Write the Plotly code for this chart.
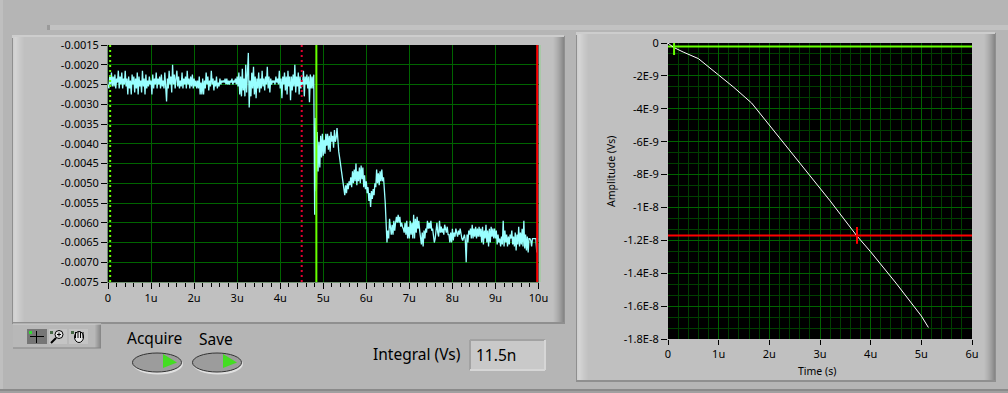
import numpy as np
import plotly.graph_objects as go

W, H = 1008, 393

# Left graph: digitised signal, mV, one value per 0.02 us
sig_a = [
-2.50,-2.60,-2.30,-2.50,-2.20,-2.55,-2.30,-2.55,-2.25,-2.60,-2.35,-2.45,-2.15,-2.60,-2.30,-2.50,-2.20,-2.60,-2.35,-2.50,
-2.15,-2.55,-2.35,-2.75,-2.30,-2.60,-2.40,-2.75,-2.25,-2.50,-2.30,-2.70,-2.35,-2.60,-2.20,-2.75,-2.30,-2.55,-2.40,-2.70,
-2.15,-2.55,-2.35,-2.75,-2.25,-2.60,-2.40,-2.55,-2.30,-2.50,-2.40,-2.75,-2.25,-2.60,-2.35,-2.50,-2.20,-2.60,-2.35,-2.50,
-2.30,-2.60,-2.25,-2.55,-2.40,-2.60,-2.20,-2.50,-2.93,-2.35,-2.60,-2.15,-2.50,-2.30,-2.70,-2.00,-2.50,-2.25,-2.60,-2.35,
-2.15,-2.55,-2.30,-2.60,-2.40,-2.55,-2.20,-2.60,-2.35,-2.50,-2.30,-2.60,-2.15,-2.50,-2.35,-2.60,-2.30,-2.55,-2.25,-2.60,
-2.35,-2.55,-2.40,-2.60,-2.40,-2.60,-2.30,-2.75,-2.45,-2.75,-2.35,-2.75,-2.40,-2.60,-2.20,-2.50,-2.30,-2.65,-2.40,-2.55,
-2.15,-2.50,-2.35,-2.65,-2.40,-2.55,-2.30,-2.60,-2.45,-2.55,-2.35,-2.50,-2.40,-2.45,-2.40,-2.45,-2.35,-2.50,-2.35,-2.50,
-2.40,-2.50,-2.40,-2.45,-2.35,-2.50,-2.40,-2.45,-2.35,-2.50,-2.30,-2.55,-2.20,-2.75,-2.30,-2.80,-2.10,-2.65,-2.35,-2.80,
-2.00,-2.70,-2.30,-1.70,-3.08,-2.40,-2.80,-2.20,-2.60,-2.05,-2.75,-2.30,-2.85,-2.35,-2.60,-2.20,-2.70,-2.35,-2.60,-2.15,
-2.55,-2.35,-2.65,-2.30,-2.50,-2.05,-2.60,-2.30,-2.70,-2.35,-2.50,-2.40,-2.45,-2.40,-2.50,-2.30,-2.45,-2.35,-2.50,-2.15,
-2.60,-2.35,-2.85,-2.30,-2.50,-2.20,-2.65,-2.30,-2.75,-2.15,-2.55,-2.30,-2.90,-2.30,-2.65,-2.25,-2.55,-2.00,-2.70,-2.30,
-2.55,-2.20,-2.75,-2.30,-2.60,-2.40,-2.50,-2.15,-2.80,-2.30,-2.50,-2.25,-2.60,-2.30,-2.95,-2.25,-2.60,-2.30,-2.60,-2.25,
]
sig_b = [
-5.80,-3.35,-5.20,-3.70,-4.70,-3.95,-4.60,-3.80,-4.35,-3.75,-4.30,-3.90,-4.25,-3.75,-4.05,-3.75,-4.15,-3.80,-4.20,-3.70,
-3.95,-3.80,-4.10,-3.65,-3.95,-3.85,-3.60,-4.00,-4.20,-4.35,-4.50,-4.70,-4.85,-5.05,-5.20,-5.30,-5.05,-5.25,-5.00,-5.15,
-4.95,-5.05,-4.85,-5.10,-4.70,-5.00,-4.65,-4.95,-4.50,-5.05,-4.70,-4.95,-4.60,-5.00,-4.55,-4.90,-4.60,-5.10,-4.80,-5.15,
-4.95,-5.25,-5.10,-5.45,-5.25,-5.60,-5.20,-5.40,-5.15,-5.30,-5.00,-5.10,-4.65,-5.00,-4.75,-5.05,-4.70,-4.95,-4.65,-4.95,
-4.85,-5.10,-5.50,-6.00,-6.50,-6.20,-6.40,-5.90,-6.10,-6.30,-6.05,-6.30,-5.95,-6.20,-6.00,-5.85,-6.00,-5.80,-6.00,-5.85,
-6.10,-6.00,-6.10,-6.15,-6.25,-6.00,-6.30,-5.95,-6.40,-6.10,-6.40,-5.95,-6.30,-6.00,-6.40,-5.80,-6.40,-5.90,-6.25,-5.85,
-6.15,-5.95,-6.20,-6.40,-6.55,-6.25,-6.60,-6.20,-6.40,-6.15,-6.25,-5.95,-6.15,-6.00,-6.15,-5.95,-6.20,-6.15,-6.40,-6.50,
-6.40,-6.20,-6.00,-6.25,-6.35,-5.95,-6.25,-6.10,-6.25,-6.15,-6.30,-6.05,-6.15,-6.25,-6.10,-6.30,-6.30,-6.50,-6.25,-6.50,
-6.15,-6.45,-6.25,-6.35,-6.15,-6.25,-6.35,-6.20,-6.30,-6.15,-6.35,-6.40,-6.45,-6.35,-6.30,-6.45,-7.00,-6.30,-6.50,-6.20,
-6.30,-6.15,-6.40,-6.05,-6.40,-6.15,-6.35,-6.10,-6.40,-6.15,-6.35,-6.10,-6.35,-6.15,-6.50,-6.10,-6.55,-6.20,-6.40,-6.05,
-6.50,-6.20,-6.60,-6.15,-6.50,-6.10,-6.35,-6.15,-6.40,-6.15,-6.40,-6.20,-6.55,-6.30,-6.50,-6.40,-6.60,-6.35,-6.55,-5.95,
-6.60,-6.20,-6.50,-6.30,-6.60,-6.35,-6.55,-6.30,-6.40,-6.20,-6.55,-6.35,-6.60,-6.25,-6.70,-6.30,-6.55,-6.10,-6.60,-6.25,
-6.55,-6.15,-6.60,-5.95,-6.65,-6.30,-6.70,-6.35,-6.75,-6.40,-6.40,-6.45,-6.60,-6.40,-6.40,-6.40,-6.40,-6.40,-6.75,-6.40,
]
signal_mv = sig_a + sig_b
signal_v = np.array(signal_mv) * 1e-3
signal_t = np.arange(len(signal_mv)) * 0.02e-6

# Right graph: integral curve
int_t = [0, 0.1e-6, 0.3e-6, 0.6e-6, 1.0e-6, 1.3e-6, 1.65e-6, 2.0e-6, 2.6e-6, 3.2e-6, 3.72e-6, 4.0e-6, 4.5e-6, 5.0e-6, 5.14e-6]
int_v = [0, -0.25e-9, -0.55e-9, -0.95e-9, -1.95e-9, -2.7e-9, -3.65e-9, -5.0e-9, -7.3e-9, -9.6e-9, -1.17e-8, -1.27e-8, -1.46e-8, -1.66e-8, -1.73e-8]

# Tick labels
left_x_vals = [0, 1e-6, 2e-6, 3e-6, 4e-6, 5e-6, 6e-6, 7e-6, 8e-6, 9e-6, 10e-6]
left_x_text = ["0", "1u", "2u", "3u", "4u", "5u", "6u", "7u", "8u", "9u", "10u"]
left_y_vals = [-0.0015, -0.0020, -0.0025, -0.0030, -0.0035, -0.0040, -0.0045, -0.0050, -0.0055, -0.0060, -0.0065, -0.0070, -0.0075]
left_y_text = ["-0.0015", "-0.0020", "-0.0025", "-0.0030", "-0.0035", "-0.0040", "-0.0045", "-0.0050", "-0.0055", "-0.0060", "-0.0065", "-0.0070", "-0.0075"]
right_x_vals = [0, 1e-6, 2e-6, 3e-6, 4e-6, 5e-6, 6e-6]
right_x_text = ["0", "1u", "2u", "3u", "4u", "5u", "6u"]
right_y_vals = [0, -2e-9, -4e-9, -6e-9, -8e-9, -1e-8, -1.2e-8, -1.4e-8, -1.6e-8, -1.8e-8]
right_y_text = ["0", "-2E-9", "-4E-9", "-6E-9", "-8E-9", "-1E-8", "-1.2E-8", "-1.4E-8", "-1.6E-8", "-1.8E-8"]

# Cursor positions
c1_left_x, c2_left_x, c3_left_x, c4_left_x = 0.05e-6, 4.5e-6, 4.84e-6, 9.97e-6
c_green = (0.12e-6, -0.22e-9)
c_red = (3.73e-6, -1.17e-8)

FONT = "Noto Sans"
BG = "#b5b5b5"
PANEL = "#c0c0c0"
GRID = "#006400"
MINOR = "#004000"
shapes = []


def px(x):
    return x / W


def py(y):
    return 1 - y / H


def rect(x0, y0, x1, y1, fill, line=None, w=1):
    shapes.append(dict(type="rect", xref="paper", yref="paper", layer="below",
                       x0=px(x0), x1=px(x1), y0=py(y1), y1=py(y0),
                       fillcolor=fill, line=dict(color=line or fill, width=w if line else 0)))


def ellipse(cx, cy, rx, ry, fill, line=None, w=1):
    shapes.append(dict(type="circle", xref="paper", yref="paper", layer="below",
                       x0=px(cx - rx), x1=px(cx + rx), y0=py(cy + ry), y1=py(cy - ry),
                       fillcolor=fill, line=dict(color=line or fill, width=w if line else 0)))


def poly(points, fill):
    d = "M " + " L ".join(f"{px(a):.5f},{py(b):.5f}" for a, b in points) + " Z"
    shapes.append(dict(type="path", xref="paper", yref="paper", layer="below", path=d,
                       fillcolor=fill, line=dict(width=0)))


def seg(x0, y0, x1, y1, color, w=1):
    shapes.append(dict(type="line", xref="paper", yref="paper", layer="below",
                       x0=px(x0), x1=px(x1), y0=py(y0), y1=py(y1), line=dict(color=color, width=w)))


def panel(x0, y0, x1, y1):
    rect(x0 - 1, y0 - 1, x1 + 1, y1 + 2, "#8f8f8f")
    rect(x0 - 1, y0 - 2, x1, y0 + 1, "#cdcdcd")
    rect(x0, y0, x1, y1, PANEL)
    for i, c in enumerate(["#cfcfcf", "#d2d2d2", "#d4d4d4", "#d2d2d2", "#cfcfcf", "#cdcdcd", "#cacaca", "#c8c8c8", "#c6c6c6", "#c4c4c4", "#c2c2c2"]):
        rect(x0 + i, y0, x0 + i + 1, y1, c)
    for i, c in enumerate(["#bebebe", "#bababa", "#b6b6b6", "#b2b2b2", "#adadad", "#a8a8a8", "#a2a2a2", "#9c9c9c", "#959595", "#8e8e8e", "#878787"]):
        rect(x1 - 11 + i, y0, x1 - 10 + i, y1, c)


# Window background and frame
rect(0, 0, W, H, BG)
rect(0, 0, 3, H, "#bfbfbf")
rect(0, 389, W, 391, "#8a8a8a")
rect(0, 391, W, H, "#a0a0a0")
rect(50, 25, W, 30, "#c2c2c2")
rect(47, 25, 50, 30, "#9a9a9a")
panel(13, 37, 564, 322)
panel(577, 34, 995, 380)

# Plot areas (the panels above would otherwise hide the plot background)
rect(108, 45, 538.5, 282, "#000000")
rect(539, 45, 541, 282, "#a8c8a8")
rect(668, 43, 972, 339, "#000000")

# Graph palette
rect(13, 324, 101, 348, "#b8b8b8")
for i in range(6):
    rect(95 + i, 324, 96 + i, 348, ["#b0b0b0", "#a8a8a8", "#a0a0a0", "#989898", "#909090", "#888888"][i])
seg(13, 324, 101, 324, "#d0d0d0")
seg(13, 348, 101, 348, "#858585")
rect(27, 329, 47, 344, "#767676")
rect(49, 329, 67, 344, "#c4c4c4")
rect(69, 329, 88, 344, "#c4c4c4")
seg(30, 336.5, 44, 336.5, "#000000")
seg(36.5, 331, 36.5, 343, "#000000")
rect(29, 331, 32, 334, "#33dd33")
rect(50, 331, 53, 334, "#446644")
ellipse(59, 334.5, 4, 4, "#e8e8e8", "#000000")
seg(56, 338, 51, 343, "#000000", 2)
seg(57, 334.5, 61, 334.5, "#000000")
seg(59, 332.5, 59, 336.5, "#000000")
rect(71, 331, 74, 334, "#446644")
ellipse(79, 337, 4.5, 5.5, "#e8e8e8", "#000000")
for hx in [75.5, 78, 80.5, 83]:
    seg(hx, 332, hx, 338, "#000000")

# Buttons
for cx in [157, 217]:
    ellipse(cx + 1, 364, 25, 10.5, "#e0e0e0")
    ellipse(cx, 362.5, 24.5, 9.5, "#9c9c9c", "#333333", 1)
    poly([(cx + 6, 354), (cx + 20, 362.5), (cx + 6, 368)], "#44dd22")

# Numeric indicator
rect(470, 340, 545, 370, "#c9c9c9")
seg(470, 340, 545, 340, "#a2a2a2", 2)
seg(470, 340, 470, 370, "#a2a2a2", 2)
seg(470, 370, 545, 370, "#d6d6d6", 2)
seg(545, 340, 545, 370, "#d6d6d6", 2)

annotations = []


def label(x, y, s, size, anchor="left", angle=0):
    annotations.append(dict(x=px(x), y=py(y), xref="paper", yref="paper", text=s, showarrow=False,
                            xanchor=anchor, yanchor="middle", textangle=angle,
                            font=dict(family=FONT, size=size, color="#000000")))


label(125, 338, "Acquire", 15.5)
label(197, 339, "Save", 15.5)
label(371, 354, "Integral (Vs)", 15.5)
label(474, 355, "11.5n", 15.5)
label(817, 371, "Time (s)", 10.5, "center")
label(611, 172, "Amplitude (Vs)", 10.5, "center", -90)

fig = go.Figure()

# Left graph
fig.add_trace(go.Scatter(x=signal_t, y=signal_v, mode="lines", line=dict(color="#99ffff", width=1.3), xaxis="x", yaxis="y"))
yl = [left_y_vals[-1], left_y_vals[0]]
fig.add_trace(go.Scatter(x=[c1_left_x] * 2, y=yl, mode="lines", line=dict(color="#66ff00", width=2, dash="2px,3px"), xaxis="x", yaxis="y"))
fig.add_trace(go.Scatter(x=[c2_left_x] * 2, y=yl, mode="lines", line=dict(color="#e00030", width=2, dash="2px,3px"), xaxis="x", yaxis="y"))
fig.add_trace(go.Scatter(x=[c3_left_x] * 2, y=yl, mode="lines", line=dict(color="#66ff00", width=2), xaxis="x", yaxis="y"))
fig.add_trace(go.Scatter(x=[c4_left_x] * 2, y=yl, mode="lines", line=dict(color="#ff0000", width=2), xaxis="x", yaxis="y"))

# Right graph
xr = [right_x_vals[0], right_x_vals[-1]]
fig.add_trace(go.Scatter(x=xr, y=[c_green[1]] * 2, mode="lines", line=dict(color="#66ff00", width=2), xaxis="x2", yaxis="y2"))
fig.add_trace(go.Scatter(x=xr, y=[c_red[1]] * 2, mode="lines", line=dict(color="#ff0000", width=2), xaxis="x2", yaxis="y2"))
fig.add_trace(go.Scatter(x=int_t, y=int_v, mode="lines", line=dict(color="#ffffff", width=1), xaxis="x2", yaxis="y2"))
fig.add_trace(go.Scatter(x=[c_green[0]], y=[c_green[1]], mode="markers",
                         marker=dict(symbol="line-ns", size=12, line=dict(color="#66ff00", width=2)), xaxis="x2", yaxis="y2"))
fig.add_trace(go.Scatter(x=[c_red[0]], y=[c_red[1]], mode="markers",
                         marker=dict(symbol="line-ns", size=12, line=dict(color="#ff0000", width=2)), xaxis="x2", yaxis="y2"))

tickfont = dict(family=FONT, size=11, color="#000000")
fig.update_layout(
    width=W, height=H, margin=dict(l=0, r=0, t=0, b=0, autoexpand=False),
    paper_bgcolor=BG, plot_bgcolor="#000000", showlegend=False,
    shapes=shapes, annotations=annotations,
    xaxis=dict(domain=[px(108), px(538.5)], range=[0, 10e-6], tickmode="array", tickvals=left_x_vals, ticktext=left_x_text,
               ticks="outside", ticklen=6, tickcolor="#000000", tickfont=tickfont, showgrid=True, gridcolor=GRID, gridwidth=1,
               zeroline=False, showline=True, linecolor="#6f8f6f", anchor="y",
               minor=dict(ticks="outside", ticklen=4, tickcolor="#000000", dtick=0.2e-6, tick0=0, showgrid=False)),
    yaxis=dict(domain=[py(282), py(45)], range=yl, tickmode="array", tickvals=left_y_vals, ticktext=left_y_text,
               ticks="outside", ticklen=6, tickcolor="#000000", tickfont=tickfont, showgrid=True, gridcolor=GRID, gridwidth=1,
               zeroline=False, showline=True, linecolor="#6f8f6f", anchor="x"),
    xaxis2=dict(domain=[px(668), px(972)], range=xr, tickmode="array", tickvals=right_x_vals, ticktext=right_x_text,
                ticks="outside", ticklen=5, tickcolor="#000000", tickfont=tickfont, showgrid=True, gridcolor=GRID, gridwidth=1,
                zeroline=False, showline=False, anchor="y2",
                minor=dict(ticks="", dtick=0.2e-6, tick0=0, showgrid=True, gridcolor=MINOR, gridwidth=1)),
    yaxis2=dict(domain=[py(339), py(43)], range=[right_y_vals[-1], 0], tickmode="array", tickvals=right_y_vals, ticktext=right_y_text,
                ticks="outside", ticklen=6, tickcolor="#000000", tickfont=tickfont, showgrid=True, gridcolor=GRID, gridwidth=1,
                zeroline=False, showline=False, anchor="x2",
                minor=dict(ticks="", dtick=2e-9 / 3, tick0=0, showgrid=True, gridcolor=MINOR, gridwidth=1)),
)

fig.write_html("out.html", config=dict(displayModeBar=False),
               post_script="document.body.style.margin='0';document.body.style.overflow='hidden';")
